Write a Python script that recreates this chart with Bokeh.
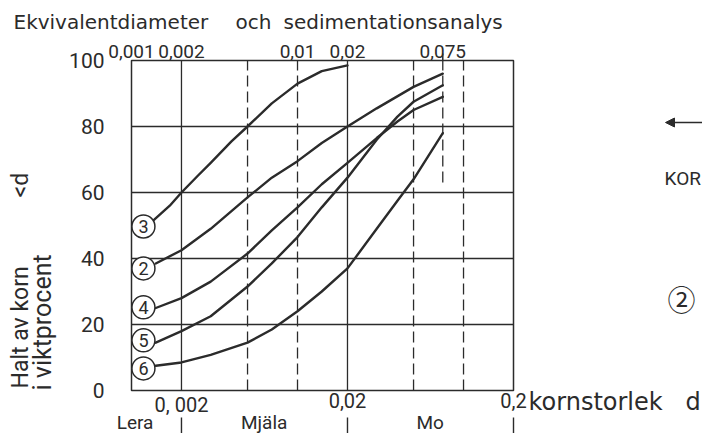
import math
from bokeh.plotting import figure
from bokeh.models import Arrow, NormalHead
from bokeh.core.properties import value
from bokeh.embed import file_html
from bokeh.resources import INLINE

# ---------------- data ----------------
d3 = [0.00135, 0.0017, 0.002, 0.0025, 0.003, 0.004, 0.005, 0.007, 0.01, 0.014, 0.02]
p3 = [51.5, 56, 60, 65, 69, 75.5, 80, 87, 93, 96.8, 98.5]

d2 = [0.0014, 0.002, 0.003, 0.005, 0.007, 0.01, 0.014, 0.02, 0.03, 0.05, 0.075]
p2 = [38.5, 42.5, 49, 58.5, 64.5, 69.5, 75, 80, 85.5, 92, 96]

d4 = [0.0014, 0.002, 0.003, 0.005, 0.007, 0.01, 0.014, 0.02, 0.03, 0.04, 0.05, 0.075]
p4 = [25, 28, 33, 41.5, 48.5, 55.5, 62.5, 69, 76.5, 81.5, 85, 89]

d5 = [0.0014, 0.002, 0.003, 0.005, 0.007, 0.01, 0.014, 0.02, 0.03, 0.04, 0.05, 0.075]
p5 = [14.5, 18, 22.5, 31.5, 38.5, 46.5, 55.5, 64.5, 76, 83, 87.5, 92.5]

d6 = [0.0014, 0.002, 0.003, 0.005, 0.007, 0.01, 0.014, 0.02, 0.03, 0.04, 0.05, 0.075]
p6 = [7.5, 8.5, 10.8, 14.5, 18.5, 24, 30, 37, 49, 57.5, 64, 78]

curve_ids = ["3", "2", "4", "5", "6"]
curve_label_d = 0.00118
curve_label_y = [49.7, 37, 25.2, 15.2, 6.7]

d_min, d_max = 0.001, 0.2
y_min, y_max = 0, 100

y_ticks = [0, 20, 40, 60, 80, 100]
y_labels = ["0", "20", "40", "60", "80", "100"]
top_ticks = [0.001, 0.002, 0.01, 0.02, 0.075]
top_labels = ["0,001", "0,002", "0,01", "0,02", "0,075"]
bottom_ticks = [0.002, 0.02, 0.2]
bottom_labels = ["0, 002", "0,02", "0,2"]
class_pos = [0.00105, 0.0063, 0.063]
class_names = ["Lera", "Mjäla", "Mo"]
class_bounds = [0.002, 0.02, 0.2]

solid_x = [0.002, 0.02]
dashed_x = [0.005, 0.01, 0.05, 0.1]
h_lines = [20, 40, 60, 80]
sieve_d = 0.075
sieve_low = 63

# ---------------- layout / styling ----------------
W, H = 702, 433
FL, FR, FT, FB = 131, 513, 60, 390           # chart box in pixels
PX_DEC = (FR - FL) / math.log10(d_max / d_min)
PX_Y = (FB - FT) / (y_max - y_min)
X_LO = d_min / 10 ** (FL / PX_DEC)
X_HI = d_max * 10 ** ((W - FR) / PX_DEC)
Y_LO = y_min - (H - FB) / PX_Y
Y_HI = y_max + FT / PX_Y

INK = "#2b2b2b"
F_NUM = "Roboto"
F_TXT = "DejaVu Sans"

p = figure(width=W, height=H, x_axis_type="log", x_range=(X_LO, X_HI), y_range=(Y_LO, Y_HI),
           x_axis_location=None, y_axis_location=None,
           output_backend="svg", toolbar_location=None,
           min_border=0, background_fill_color="white", border_fill_color="white")
p.grid.visible = False
p.outline_line_color = None

GL = dict(line_color=INK, line_width=1.3)
# grid lines
p.segment(x0=solid_x, y0=[y_min] * len(solid_x), x1=solid_x, y1=[y_max] * len(solid_x), **GL)
p.segment(x0=dashed_x, y0=[y_min] * len(dashed_x), x1=dashed_x, y1=[y_max] * len(dashed_x),
          line_dash="11 5", **GL)
p.segment(x0=[d_min] * len(h_lines), y0=h_lines, x1=[d_max] * len(h_lines), y1=h_lines, **GL)
p.segment(x0=[sieve_d], y0=[sieve_low], x1=[sieve_d], y1=[y_max], line_dash="11 5", **GL)
# tick above the box at 0.075
p.segment(x0=[sieve_d], y0=[y_max], x1=[sieve_d], y1=[y_max + 7 / PX_Y], line_color=INK, line_width=1.5)
# chart box
p.quad(left=[d_min], right=[d_max], bottom=[y_min], top=[y_max], fill_color=None,
       line_color=INK, line_width=1.5)
# soil class separators below the axis
p.segment(x0=class_bounds, y0=[y_min - 27 / PX_Y] * 3, x1=class_bounds, y1=[y_min - 43 / PX_Y] * 3,
          line_color=INK, line_width=1.4)

# curves
for dd, pp in [(d3, p3), (d2, p2), (d4, p4), (d5, p5), (d6, p6)]:
    p.line(dd, pp, line_color=INK, line_width=2.4, line_join="round", line_cap="round")

# curve number circles
n = len(curve_ids)
p.scatter(x=[curve_label_d] * n, y=curve_label_y, marker="circle", size=23,
          fill_color="white", line_color=INK, line_width=1.5)
p.text(x=[curve_label_d] * n, y=curve_label_y, text=curve_ids,
       text_align="center", text_baseline="middle", text_font=value(F_NUM),
       text_font_size="18px", text_color=INK)


def txt(xs, ys, texts, xo=0, yo=0, size="20px", font=F_NUM, align="left",
        base="middle", angle=0):
    p.text(x=xs, y=ys, text=texts, x_offset=xo, y_offset=yo, angle=angle,
           text_align=align, text_baseline=base, text_font=value(font),
           text_font_size=size, text_color=INK)


# tick labels
txt([d_min] * len(y_ticks), y_ticks, y_labels, xo=-27, size="21px", align="right")
txt(top_ticks, [y_max] * len(top_ticks), top_labels, yo=-3, size="19px", align="center", base="bottom")
txt(bottom_ticks, [y_min] * 3, bottom_labels, yo=2, size="20px", align="center", base="top")
txt(class_pos, [y_min] * 3, class_names, yo=32, size="19px", align="center")

# titles
txt([d_min], [y_max], ["Ekvivalentdiameter"], xo=-118, yo=-39, size="20px", font=F_TXT)
txt([d_min], [y_max], ["och"], xo=104, yo=-39, size="20px", font=F_TXT)
txt([d_min], [y_max], ["sedimentationsanalys"], xo=152, yo=-39, size="20px", font=F_TXT)

txt([d_min], [y_min], ["Halt av korn"], xo=-111, yo=-2, size="23px", angle=math.pi / 2)
txt([d_min], [y_min], ["<d"], xo=-111, yo=-193, size="23px", angle=math.pi / 2)
txt([d_min], [y_min], ["i viktprocent"], xo=-89, yo=0, size="25px", angle=math.pi / 2)

txt([d_max], [y_min], ["kornstorlek"], xo=15, yo=11, size="24px", font=F_TXT)
txt([d_max], [y_min], ["d"], xo=172, yo=11, size="24px", font=F_TXT)

# fragment of the neighbouring figure at the right edge
txt([d_max], [y_min], ["KOR"], xo=151, yo=-212, size="19px")
txt([d_max], [y_min], ["②"], xo=168, yo=-92, size="28px", font="Noto Sans CJK JP", align="center")
p.add_layout(Arrow(end=NormalHead(size=9, fill_color=INK, line_color=INK, line_width=1),
                   start=None, x_start=W, y_start=H - 122, x_end=665, y_end=H - 122,
                   start_units="screen", end_units="screen", line_color=INK, line_width=1.5))

open("out.html", "w").write(file_html(p, INLINE))
